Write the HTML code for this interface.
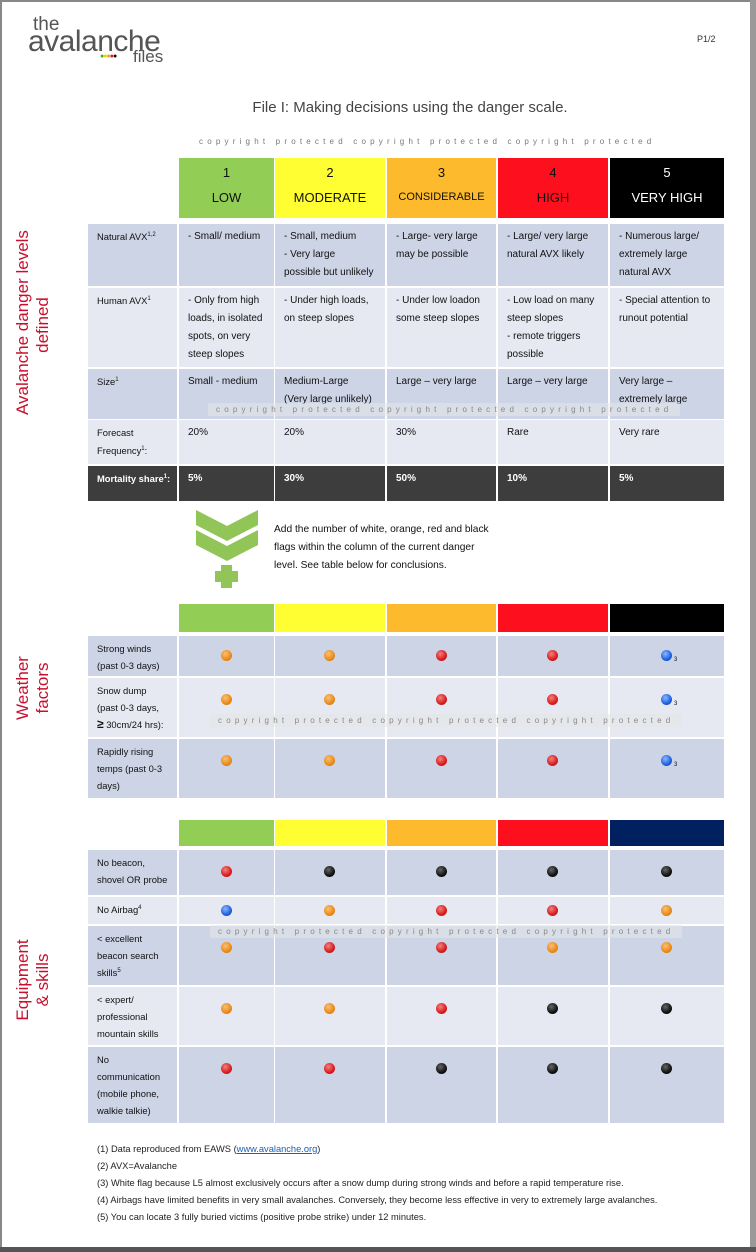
<!DOCTYPE html>
<html><head><meta charset="utf-8">
<style>
*{box-sizing:border-box;margin:0;padding:0}
body{width:756px;height:1252px;position:relative;background:#fff;font-family:"Liberation Sans",Arial,sans-serif;overflow:hidden;color:#111}
.abs{position:absolute}
.cell{position:absolute;font-size:10px;line-height:18px;padding:4px 4px 4px 9px;color:#111;overflow:hidden;white-space:nowrap}
.cell sup{font-size:6px;line-height:0}
.dk{background:#cdd4e6}.lt{background:#e6e9f2}
.mort{background:#3d3d3d;color:#fff;font-weight:bold}
.lab{padding-right:4px;font-size:9.4px;white-space:normal}
.fl{line-height:17px}
.dot{position:absolute;width:11px;height:11px;border-radius:50%}
.vt{position:absolute;color:#c8102e;font-size:17px;line-height:20px;text-align:center;transform:rotate(-90deg);white-space:nowrap}
.wm{position:absolute;font-size:8px;letter-spacing:4.2px;color:#888;background:rgba(230,230,230,0.55);padding:2px 8px;white-space:nowrap}
.fn{position:absolute;left:97px;font-size:9.3px;color:#222}
</style></head><body>
<div class="abs" style="left:0;top:0;width:2px;height:1252px;background:#888"></div>
<div class="abs" style="left:0;top:0;width:756px;height:2px;background:#888"></div>
<div class="abs" style="left:750px;top:0;width:6px;height:1252px;background:#999"></div>
<div class="abs" style="left:0;top:1247px;width:756px;height:5px;background:#555"></div>

<div class="abs" style="left:28px;top:14px;color:#555">
<div style="position:absolute;left:5px;top:1px;font-size:19px;line-height:19px">the</div>
<div style="position:absolute;left:0;top:13px;font-size:30px;line-height:30px;letter-spacing:-0.5px">avalanche</div>
<div style="position:absolute;left:72px;top:39px;font-size:7px;letter-spacing:-1px;line-height:8px"><span style="color:#4caf20">●</span><span style="color:#f0d000">●</span><span style="color:#f0a020">●</span><span style="color:#e02020">●</span><span style="color:#111">●</span></div>
<div style="position:absolute;left:105px;top:34px;font-size:17px;line-height:18px">files</div>
</div>
<div class="abs" style="left:697px;top:34px;font-size:9px;color:#333">P1/2</div>
<div class="abs" style="left:0;width:820px;top:99px;text-align:center;font-size:15px;color:#444">File I: Making decisions using the danger scale.</div>
<div class="abs" style="left:199px;top:137px;font-size:8px;letter-spacing:4.2px;color:#777">copyright protected copyright protected copyright protected</div>

<div class="vt" style="left:-57px;top:305px;width:180px">Avalanche danger levels<br>defined</div>
<div class="vt" style="left:-7px;top:668px;width:80px">Weather<br>factors</div>
<div class="vt" style="left:-17px;top:960px;width:100px">Equipment<br>&amp; skills</div>

<div id="grid"></div>

<div class="abs" style="left:196px;top:508px">
<svg width="62" height="80" viewBox="0 0 62 80"><polygon points="0,2 31,18 62,2 62,17 31,33 0,17" fill="#92c558"/><polygon points="0,22 31,38 62,22 62,37 31,53 0,37" fill="#92c558"/><rect x="25" y="57" width="11" height="23" fill="#92c558"/><rect x="19" y="63" width="23" height="11" fill="#92c558"/></svg></div>
<div class="abs" style="left:274px;top:521px;width:224px;font-size:10.2px;line-height:18px">Add the number of white, orange, red and black flags within the column of the current danger level. See table below for conclusions.</div>

<div class="wm" style="left:208px;top:403px">copyright protected copyright protected copyright protected</div>
<div class="wm" style="left:210px;top:714px">copyright protected copyright protected copyright protected</div>
<div class="wm" style="left:210px;top:925px">copyright protected copyright protected copyright protected</div>

<div class="fn" style="top:1144px">(1) Data reproduced from EAWS (<a href="#" style="color:#1a5fb4">www.avalanche.org</a>)</div>
<div class="fn" style="top:1161px">(2) AVX=Avalanche</div>
<div class="fn" style="top:1178px">(3) White flag because L5 almost exclusively occurs after a snow dump during strong winds and before a rapid temperature rise.</div>
<div class="fn" style="top:1195px">(4) Airbags have limited benefits in very small avalanches. Conversely, they become less effective in very to extremely large avalanches.</div>
<div class="fn" style="top:1212px">(5) You can locate 3 fully buried victims (positive probe strike) under 12 minutes.</div>

<script>
const colX=[179,275,387,498,610];
const colW=[95,110,109,110,114];
const levelColors=['#92cd55','#fefe33','#fdba2c','#fe0f1d','#000000'];
const levelNums=['1','2','3','4','5'];
const levelNames=['LOW','MODERATE','CONSIDERABLE','HIGH','VERY HIGH'];
const dangerRows=['Natural AVX<sup>1,2</sup>','Human AVX<sup>1</sup>','Size<sup>1</sup>','Forecast Frequency<sup>1</sup>:','Mortality share<sup>1</sup>:'];
const dangerY=[224,288,369,420,466];
const dangerH=[62,79,50,44,35];
const dangerCells=[
['- Small/ medium','- Small, medium<br>- Very large<br>possible but unlikely','- Large- very large<br>may be possible','- Large/ very large<br>natural AVX likely','- Numerous large/<br>extremely large<br>natural AVX'],
['- Only from high<br>loads, in isolated<br>spots, on very<br>steep slopes','- Under high loads,<br>on steep slopes','- Under low loadon<br>some steep slopes','- Low load on many<br>steep slopes<br>- remote triggers<br>possible','- Special attention to<br>runout potential'],
['Small - medium','Medium-Large<br>(Very large unlikely)','Large – very large','Large – very large','Very large –<br>extremely large'],
['20%','20%','30%','Rare','Very rare'],
['5%','30%','50%','10%','5%']];
const weatherRows=['Strong winds<br>(past 0-3 days)','Snow dump<br>(past 0-3 days,<br><b style="font-size:12px">≥</b> 30cm/24 hrs):','Rapidly rising<br>temps (past 0-3<br>days)'];
const weatherY=[636,678,739];
const weatherH=[40,59,59];
const weatherFlags=[['O','O','R','R','B'],['O','O','R','R','B'],['O','O','R','R','B']];
const equipColors=['#92cd55','#fefe33','#fdba2c','#fe0f1d','#002060'];
const equipRows=['No beacon,<br>shovel OR probe','No Airbag<sup>4</sup>','&lt; excellent<br>beacon search<br>skills<sup>5</sup>','&lt; expert/<br>professional<br>mountain skills','No<br>communication<br>(mobile phone,<br>walkie talkie)'];
const equipY=[850,897,926,987,1047];
const equipH=[45,27,59,58,76];
const equipFlags=[['R','K','K','K','K'],['B','O','R','R','O'],['O','R','R','O','O'],['O','O','R','K','K'],['R','R','K','K','K']];
const flagColor={O:'radial-gradient(circle at 40% 35%,#fbc070,#e88a1a 60%,#c06a10)',R:'radial-gradient(circle at 40% 35%,#f28080,#d81c1c 60%,#a01010)',K:'radial-gradient(circle at 40% 35%,#666,#111 60%,#000)',B:'radial-gradient(circle at 40% 35%,#8ab8ff,#1e5fe0 60%,#0a3aa0)'};
const g=document.getElementById('grid');
function add(html,cls,x,y,w,h,style){const d=document.createElement('div');d.className=cls;d.style.left=x+'px';d.style.top=y+'px';d.style.width=w+'px';d.style.height=h+'px';if(style)d.style.cssText+=style;d.innerHTML=html;g.appendChild(d);return d;}
for(let i=0;i<5;i++){
 const d=add('<div style="font-size:13px;margin-top:7px;line-height:15px">'+levelNums[i]+'</div><div style="font-size:'+(i==2?11:13)+'px;margin-top:10px;line-height:15px">'+levelNames[i]+'</div>','abs',colX[i],158,colW[i],60,'background:'+levelColors[i]+';text-align:center;color:'+(i==4?'#fff':'#111'));
 
 
}
for(let r=0;r<5;r++){
 const cls=r==4?'cell mort':(r%2==0?'cell dk':'cell lt');
 const l=add(dangerRows[r],cls+' lab',88,dangerY[r],89,dangerH[r]);
 
 
 for(let c=0;c<5;c++){
  const d=add(dangerCells[r][c],cls,colX[c],dangerY[r],colW[c],dangerH[r]);
  
  
 }
}
function flagBlock(labels,ys,hs,flags,hy,hh,colors,prefix){
 for(let i=0;i<5;i++){
  const d=add('','abs',colX[i],hy,colW[i],hh,'background:'+colors[i]);
  
  
 }
 for(let r=0;r<labels.length;r++){
  const cls=r%2==0?'cell dk':'cell lt';
  const l=add(labels[r],cls+' lab fl',88,ys[r],89,hs[r]);
  
  
  for(let c=0;c<5;c++){
   const d=add('',cls,colX[c],ys[r],colW[c],hs[r]);
   
   
   const f=flags[r][c];
   const dot=document.createElement('div');
   dot.className='dot';
   dot.style.left=(colW[c]/2-6)+'px';
   dot.style.top=(Math.min(hs[r]/2,22)-6)+'px';
   dot.style.background=flagColor[f];
   
   
   d.appendChild(dot);
   if(prefix=='weather'&&c==4){const s=document.createElement('span');s.textContent='3';s.style.cssText='position:absolute;font-size:6px;line-height:6px;left:'+(colW[c]/2+7)+'px;top:'+(Math.min(hs[r]/2,22)+1)+'px';
    
    
    d.appendChild(s);}
  }
 }
}
flagBlock(weatherRows,weatherY,weatherH,weatherFlags,604,28,levelColors,'weather');
flagBlock(equipRows,equipY,equipH,equipFlags,820,26,equipColors,'equipment');
</script>
</body></html>
